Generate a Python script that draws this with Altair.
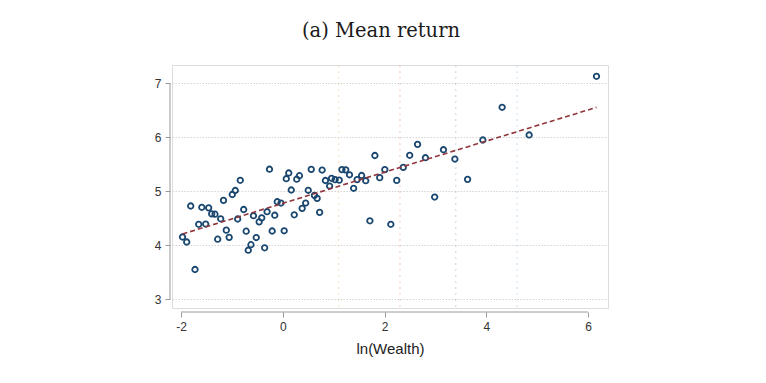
import altair as alt
import pandas as pd

# ln(Wealth) bins and mean returns
ln_wealth = [-1.970, -1.888, -1.809, -1.725, -1.652, -1.591, -1.515, -1.456, -1.397, -1.332,
             -1.279, -1.220, -1.165, -1.110, -1.053, -0.992, -0.933, -0.886, -0.835, -0.768,
             -0.719, -0.678, -0.625, -0.576, -0.521, -0.464, -0.413, -0.356, -0.308, -0.261,
             -0.208, -0.157, -0.108, -0.035, 0.028, 0.069, 0.118, 0.167, 0.226, 0.275,
             0.328, 0.381, 0.450, 0.501, 0.560, 0.623, 0.676, 0.725, 0.774, 0.839,
             0.921, 0.959, 1.029, 1.110, 1.163, 1.238, 1.312, 1.393, 1.462, 1.550,
             1.631, 1.713, 1.811, 1.906, 2.006, 2.124, 2.240, 2.369, 2.495, 2.650,
             2.804, 2.986, 3.159, 3.383, 3.633, 3.933, 4.312, 4.843, 6.167]
mean_return = [4.154, 4.061, 4.728, 3.552, 4.389, 4.704, 4.394, 4.694, 4.583, 4.576,
               4.113, 4.491, 4.833, 4.280, 4.148, 4.941, 5.015, 4.487, 5.204, 4.663,
               4.261, 3.909, 4.011, 4.548, 4.144, 4.435, 4.509, 3.954, 4.622, 5.409,
               4.265, 4.557, 4.807, 4.783, 4.269, 5.233, 5.339, 5.024, 4.565, 5.224,
               5.289, 4.685, 4.783, 5.019, 5.407, 4.926, 4.870, 4.611, 5.394, 5.200,
               5.098, 5.241, 5.215, 5.206, 5.402, 5.398, 5.306, 5.056, 5.217, 5.293,
               5.196, 4.454, 5.663, 5.252, 5.402, 4.389, 5.202, 5.444, 5.667, 5.870,
               5.622, 4.894, 5.770, 5.598, 5.222, 5.950, 6.556, 6.043, 7.130]

# vertical reference lines: ln(3), ln(10), ln(30), ln(100)
ref_x = [1.099, 2.303, 3.401, 4.605]
ref_name = ["ln3", "ln10", "ln30", "ln100"]
ref_color = ["#f6c793", "#eeaa82", "#9fbfbb", "#9ed3ef"]

x_ticks = [-2, 0, 2, 4, 6]
y_ticks = [3, 4, 5, 6, 7]

pts = pd.DataFrame({"x": ln_wealth, "y": mean_return})
refs = pd.DataFrame({"x": ref_x, "name": ref_name})

W, H = 436, 243
xscale = alt.Scale(domain=[-2.177, 6.393], nice=False, zero=False)
yscale = alt.Scale(domain=[2.839, 7.339], nice=False, zero=False)

axis_gray = "#9a9a9a"
lab_font = "Liberation Sans"

points = alt.Chart(pts).mark_point(
    shape="circle", filled=False, size=30, strokeWidth=1.8, color="#1a476f", opacity=1
).encode(
    x=alt.X("x:Q", scale=xscale,
            axis=alt.Axis(values=x_ticks, domain=False, grid=False, offset=4,
                          tickSize=5, tickColor=axis_gray, tickWidth=1,
                          labelFont=lab_font, labelFontSize=12, labelColor="#333",
                          labelPadding=4, title="ln(Wealth)", titleFont=lab_font,
                          titleFontSize=15, titleFontWeight="normal", titleColor="#222",
                          titlePadding=9, labelExpr="'' + datum.value")),
    y=alt.Y("y:Q", scale=yscale,
            axis=alt.Axis(values=y_ticks, domain=False, grid=True, offset=2,
                          gridColor="#d4d4d4", gridDash=[1.5, 1.5], gridWidth=1,
                          tickSize=5, tickColor=axis_gray, tickWidth=1,
                          labelFont=lab_font, labelFontSize=12, labelColor="#333",
                          labelPadding=4, title=None, labelExpr="'' + datum.value")),
)

vlines = alt.Chart(refs).mark_rule(strokeWidth=1.1, strokeDash=[2, 4], opacity=0.55).encode(
    x="x:Q",
    color=alt.Color("name:N", scale=alt.Scale(domain=ref_name, range=ref_color), legend=None),
)

fit = alt.Chart(pts).transform_regression("x", "y").mark_line(
    color="#90353b", strokeDash=[5, 3], strokeWidth=1.6
).encode(x="x:Q", y="y:Q")

xaxis_line = alt.Chart(pd.DataFrame({"a": [0]})).mark_rule(color=axis_gray, strokeWidth=1).encode(
    x=alt.datum(x_ticks[0]), x2=alt.datum(x_ticks[-1]), y=alt.value(H + 4)
)
yaxis_line = alt.Chart(pd.DataFrame({"a": [0]})).mark_rule(color=axis_gray, strokeWidth=1).encode(
    y=alt.datum(y_ticks[0]), y2=alt.datum(y_ticks[-1]), x=alt.value(-2)
)

chart = alt.layer(vlines, points, fit, xaxis_line, yaxis_line).properties(
    width=W, height=H,
    title=alt.TitleParams("(a) Mean return", font="DejaVu Serif", fontSize=19.5,
                          fontWeight="normal", color="#1a1a1a", anchor="middle",
                          dx=-9, offset=23),
    autosize=alt.AutoSizeParams(type="none"),
    padding={"left": 164, "top": 57, "right": 150, "bottom": 67},
).configure_view(stroke=None).configure(background="white")

chart.save("out.html", embed_options={"renderer": "svg", "actions": False})
